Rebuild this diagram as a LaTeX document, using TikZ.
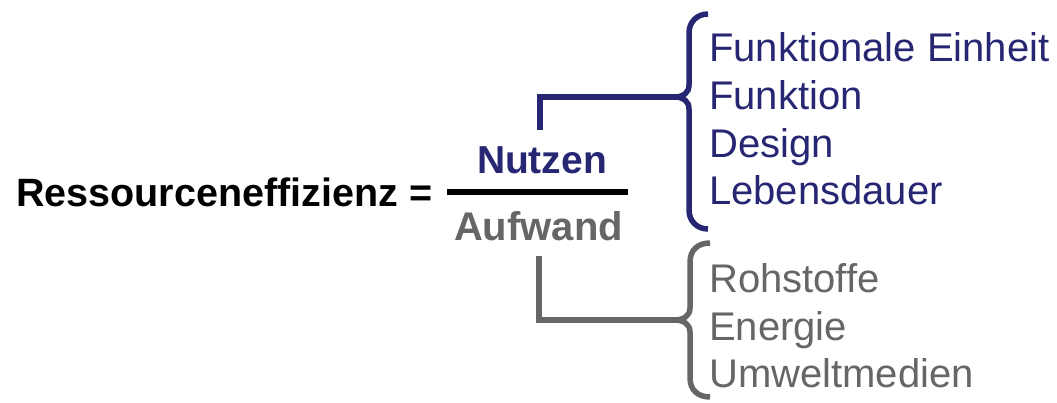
\documentclass[tikz,border=0pt]{standalone}
\usepackage{fontspec}
\setmainfont{Liberation Sans}
\definecolor{navy}{RGB}{38,38,115}
\definecolor{dgray}{RGB}{102,102,102}
\begin{document}
\begin{tikzpicture}[x=1pt,y=-1pt,
  conn/.style={line width=5.5pt},
  item/.style={anchor=base west, inner sep=0pt, font=\fontsize{40}{40}\selectfont},
  navyitem/.style={item, text=navy},
  grayitem/.style={item, text=dgray},
  frac/.style={anchor=base, inner sep=0pt}]
\useasboundingbox[fill=white] (0,0) rectangle (1057,403);

% left-hand side
\node[anchor=base west, inner sep=0pt, font=\fontsize{39.5}{40}\selectfont\bfseries] (lhs) at (16,207)
  {Ressourceneffizienz =};

% fraction
\node[frac, text=navy, font=\fontsize{39}{40}\selectfont\bfseries] (num) at (542,174) {Nutzen};
\node[frac, text=dgray, font=\fontsize{40}{40}\selectfont\bfseries] (den) at (538.5,241) {Aufwand};
\coordinate (fl) at (447,192);
\coordinate (fr) at (628,192);
\draw[line width=5.5pt, black] (fl) -- (fr);

% navy connector and brace
\coordinate (nstart) at (540,130);
\coordinate (ncusp) at (675,97);
\draw[conn, navy] (nstart) |- (ncusp);
\draw[conn, navy] (708,14) .. controls (697,14) and (689,22) .. (689,33)
  -- (689,85) .. controls (689,93) and (683,97) .. (ncusp)
  .. controls (683,97) and (689,101) .. (689,109)
  -- (689,210) .. controls (689,221) and (697,229) .. (708,229);

% gray connector and brace
\coordinate (gstart) at (539,256);
\coordinate (gcusp) at (675,320);
\draw[conn, dgray] (gstart) |- (gcusp);
\draw[conn, dgray] (710,243) .. controls (698,243) and (690,250) .. (690,262)
  -- (690,308) .. controls (690,316) and (683,320) .. (gcusp)
  .. controls (683,320) and (690,324) .. (690,332)
  -- (690,378) .. controls (690,390) and (698,397) .. (710,397);

% navy items
\node[navyitem] (n1) at (709,62)  {Funktionale Einheit};
\node[navyitem] (n2) at (709,110) {Funktion};
\node[navyitem] (n3) at (709,158) {Design};
\node[navyitem] (n4) at (709,205) {Lebensdauer};

% gray items
\node[grayitem] (g1) at (709,292) {Rohstoffe};
\node[grayitem] (g2) at (709,340) {Energie};
\node[grayitem] (g3) at (709,387) {Umweltmedien};
\end{tikzpicture}
\end{document}
